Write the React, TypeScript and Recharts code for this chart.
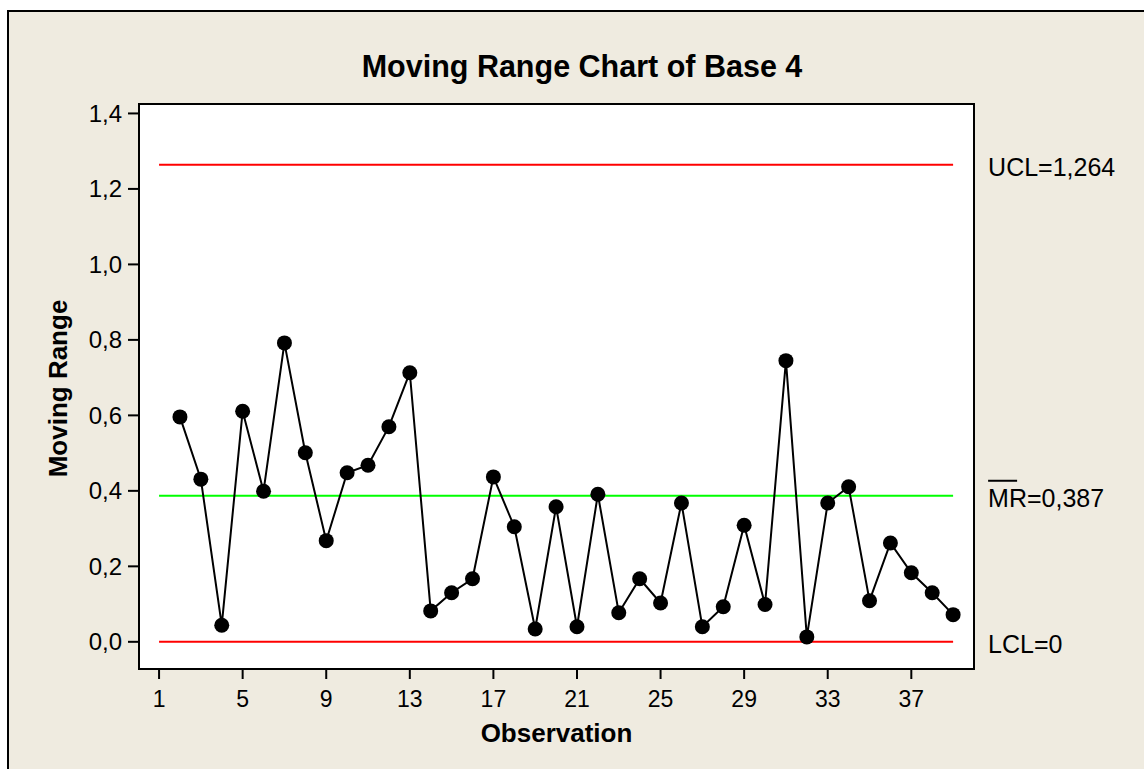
import React from 'react';
import {
  ComposedChart,
  Line,
  XAxis,
  YAxis,
  ReferenceLine,
  ReferenceArea,
  CartesianGrid,
  Label,
} from 'recharts';

// ---- data ----
const observations = [
  1, 2, 3, 4, 5, 6, 7, 8, 9, 10, 11, 12, 13, 14, 15, 16, 17, 18, 19, 20,
  21, 22, 23, 24, 25, 26, 27, 28, 29, 30, 31, 32, 33, 34, 35, 36, 37, 38, 39,
];
const movingRange: (number | null)[] = [
  null, 0.596, 0.431, 0.044, 0.611, 0.399, 0.792, 0.501, 0.268, 0.448,
  0.468, 0.57, 0.713, 0.082, 0.13, 0.167, 0.437, 0.305, 0.034, 0.358,
  0.04, 0.391, 0.077, 0.167, 0.103, 0.368, 0.04, 0.093, 0.309, 0.099,
  0.745, 0.013, 0.368, 0.411, 0.109, 0.262, 0.183, 0.13, 0.072,
];
const UCL = 1.264;
const CL = 0.387;
const LCL = 0;
const xDomain = [0.04, 40];
const yDomain = [-0.072, 1.425];
const xTicks = [1, 5, 9, 13, 17, 21, 25, 29, 33, 37];
const yTicks = [0, 0.2, 0.4, 0.6, 0.8, 1.0, 1.2, 1.4];
const title = 'Moving Range Chart of Base 4';
const xTitle = 'Observation';
const yTitle = 'Moving Range';
const uclLabel = 'UCL=1,264';
const clLabelBar = 'MR';
const clLabelRest = '=0,387';
const lclLabel = 'LCL=0';

const data = observations.map((obs, i) => ({ obs, mr: movingRange[i] }));

const FONT = '"Liberation Sans", Arial, sans-serif';
const BG = '#EFEBE0';

const fmt = (v: number) => v.toFixed(1).replace('.', ',');

const RightLabel = (text: string, bar?: string) => (props: any) => {
  const vb = props.viewBox || {};
  const x = (vb.x ?? 0) + (vb.width ?? 0) + 35;
  const y = (vb.y ?? 0) + 2;
  return (
    <g>
      {bar ? (
        <line x1={x} x2={x + 29} y1={y - 17} y2={y - 17} stroke="#000" strokeWidth={2} />
      ) : null}
      <text
        x={x}
        y={y}
        dy="0.355em"
        textAnchor="start"
        fontFamily={FONT}
        fontSize={25}
        fill="#000"
      >
        {bar ? bar + text : text}
      </text>
    </g>
  );
};

const YTitle = (props: any) => {
  const vb = props.viewBox || { x: 0, y: 104, width: 139, height: 565 };
  const cx = vb.x + 58;
  const cy = vb.y + vb.height / 2 + 2;
  return (
    <text
      x={cx}
      y={cy}
      dy="0.355em"
      transform={`rotate(-90, ${cx}, ${cy})`}
      textAnchor="middle"
      fontFamily={FONT}
      fontWeight="bold"
      fontSize={26}
      fill="#000"
    >
      {yTitle}
    </text>
  );
};

const XTitle = (props: any) => {
  const vb = props.viewBox || { x: 139, y: 669, width: 835, height: 60 };
  const cx = vb.x + vb.width / 2;
  return (
    <text
      x={cx}
      y={vb.y + 73}
      textAnchor="middle"
      fontFamily={FONT}
      fontWeight="bold"
      fontSize={26}
      fill="#000"
    >
      {xTitle}
    </text>
  );
};

export default function App() {
  return (
    <div
      style={{
        position: 'absolute',
        left: 0,
        top: 0,
        width: 1144,
        height: 769,
        background: '#fff',
        overflow: 'hidden',
      }}
    >
      <div
        style={{
          position: 'absolute',
          left: 7,
          top: 10,
          right: 0,
          bottom: 0,
          background: BG,
          borderLeft: '2px solid #000',
          borderTop: '2px solid #000',
        }}
      />
      <div style={{ position: 'absolute', left: 0, top: 0 }}>
        <ComposedChart
          width={1144}
          height={769}
          data={data}
          margin={{ top: 104, right: 170, bottom: 40, left: 0 }}
        >
          <CartesianGrid horizontal={false} vertical={false} fill="#fff" fillOpacity={1} />
          <XAxis
            dataKey="obs"
            type="number"
            domain={xDomain}
            ticks={xTicks}
            interval={0}
            height={60}
            tickSize={10}
            tickMargin={12}
            axisLine={{ stroke: '#000', strokeWidth: 2 }}
            tickLine={{ stroke: '#000', strokeWidth: 2 }}
            tick={{ fill: '#000', fontSize: 23, fontFamily: FONT }}
          >
            <Label content={XTitle} />
          </XAxis>
          <YAxis
            type="number"
            domain={yDomain}
            ticks={yTicks}
            interval={0}
            width={139}
            tickSize={11}
            tickMargin={6}
            tickFormatter={fmt}
            axisLine={{ stroke: '#000', strokeWidth: 2 }}
            tickLine={{ stroke: '#000', strokeWidth: 2 }}
            tick={{ fill: '#000', fontSize: 24, fontFamily: FONT }}
          >
            <Label content={YTitle} />
          </YAxis>
          <ReferenceArea
            x1={xDomain[0]}
            x2={xDomain[1]}
            y1={yDomain[0]}
            y2={yDomain[1]}
            ifOverflow="visible"
            fill="none"
            fillOpacity={0}
            stroke="#000"
            strokeWidth={2}
          />
          <ReferenceLine
            segment={[{ x: 1, y: UCL }, { x: 39, y: UCL }]}
            stroke="#FF0000"
            strokeWidth={2}
            label={RightLabel(uclLabel)}
          />
          <ReferenceLine
            segment={[{ x: 1, y: CL }, { x: 39, y: CL }]}
            stroke="#00FF00"
            strokeWidth={2}
            label={RightLabel(clLabelRest, clLabelBar)}
          />
          <ReferenceLine
            segment={[{ x: 1, y: LCL }, { x: 39, y: LCL }]}
            stroke="#FF0000"
            strokeWidth={2}
            label={RightLabel(lclLabel)}
          />
          <Line
            dataKey="mr"
            stroke="#000"
            strokeWidth={2}
            isAnimationActive={false}
            dot={{ r: 7.5, fill: '#000', stroke: 'none' }}
            activeDot={false}
          />
        </ComposedChart>
      </div>
      <svg
        width={1144}
        height={100}
        style={{ position: 'absolute', left: 0, top: 0, pointerEvents: 'none' }}
      >
        <text
          x={582}
          y={77}
          textAnchor="middle"
          fontFamily={FONT}
          fontWeight="bold"
          fontSize={30.5}
          fill="#000"
        >
          {title}
        </text>
      </svg>
    </div>
  );
}
